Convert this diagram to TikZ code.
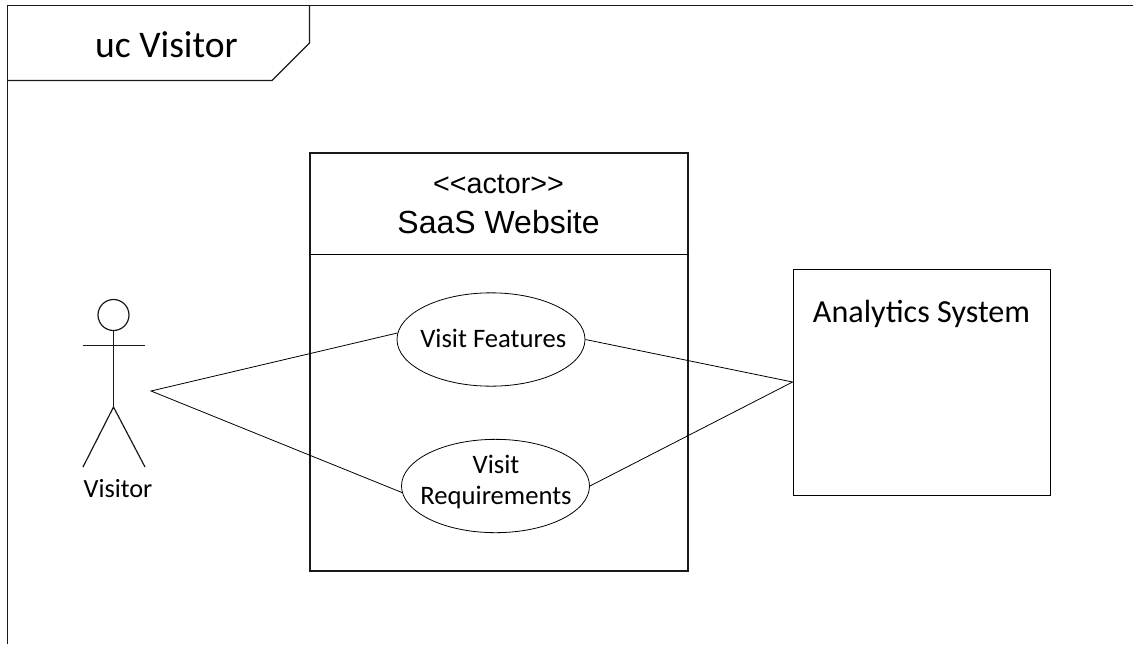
\documentclass[tikz,border=0pt]{standalone}
\usepackage{fontspec}
\setmainfont{Carlito}
\newfontfamily\lib{Liberation Sans}
\usetikzlibrary{shapes.geometric}
\tikzset{
  x=0.75pt,y=-0.75pt,
  ln/.style={draw=black!90,line width=0.9pt},
  thin ln/.style={draw=black,line width=0.6pt},
  usecase/.style={ellipse,thin ln,inner sep=0pt,minimum width=141pt,minimum height=70pt},
  boxnode/.style={rectangle,ln,inner sep=0pt},
  txt/.style={inner sep=0pt,align=center},
  uctext/.style={txt,font=\fontsize{20}{23.5}\selectfont},
}
\begin{document}
\begin{tikzpicture}
\useasboundingbox (0,0) rectangle (1133,644);
% frame
\draw[ln] (7.5,644) -- (7.5,5.5) -- (1133,5.5);
\draw[ln] (309.5,5.5) -- (309.5,43) -- (272,80.5) -- (7.5,80.5);
\node[txt,font=\fontsize{28.2}{34}\selectfont] (title) at (166.5,45) {uc Visitor};
% system box
\node[boxnode,line width=1pt,minimum width=283.5pt,minimum height=313.5pt] (sys) at (499,362) {};
\coordinate (dl) at (sys.west |- 0,254);
\coordinate (dr) at (sys.east |- 0,254);
\draw[thin ln] (dl) -- (dr);
\node[txt,font=\lib\fontsize{21.5}{26}\selectfont] (ster) at (498.5,184) {<{}<actor>{}>};
\node[txt,font=\lib\fontsize{24}{29}\selectfont] (sysname) at (498.5,222) {SaaS Website};
% use cases
\node[usecase] (uca) at (491,339.5) {};
\node[uctext] (ucatext) at (493.3,338) {Visit Features};
\node[usecase] (ucb) at (495.5,486) {};
\node[uctext] (ucbtext) at (496,482) {Visit\\Requirements};
% analytics
\node[boxnode,thin ln,minimum width=192.75pt,minimum height=169.5pt] (ana) at (921.5,382) {};
\node[txt,font=\fontsize{24.1}{29}\selectfont] (analabel) at (921.5,314) {Analytics System};
% actor
\node[circle,ln,inner sep=0pt,minimum size=23.25pt] (head) at (113.5,315) {};
\coordinate (hip) at (113.5,407);
\coordinate (armL) at (83,345.5);
\coordinate (armR) at (145,345.5);
\coordinate (footL) at (83,467);
\coordinate (footR) at (145,467);
\draw[ln] (head.south) -- (hip);
\draw[ln] (armL) -- (armR);
\draw[ln] (footL) -- (hip) -- (footR);
\node[txt,font=\fontsize{19.7}{24}\selectfont] (vis) at (118,489) {Visitor};
% connectors
\coordinate (ja) at (151,391);
\draw[thin ln] (uca.176.6) -- (ja) -- (ucb.184.9);
\draw[thin ln] (uca.east) -- (ana.west) -- (ucb.east);
\end{tikzpicture}
\end{document}
